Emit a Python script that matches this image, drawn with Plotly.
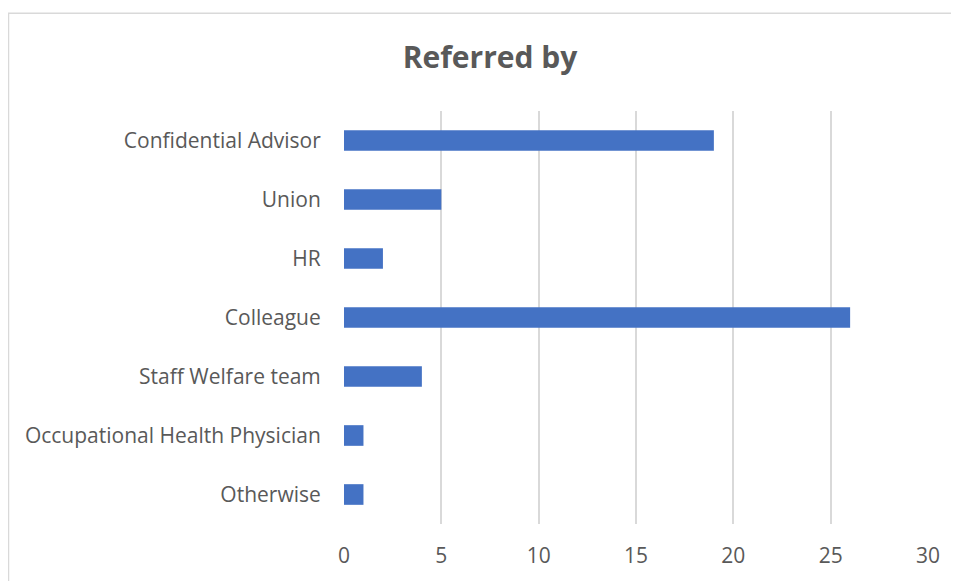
import plotly.graph_objects as go

# data (top to bottom)
categories = ["Confidential Advisor", "Union", "HR", "Colleague",
              "Staff Welfare team", "Occupational Health Physician", "Otherwise"]
counts = [19, 5, 2, 26, 4, 1, 1]
x_ticks = [0, 5, 10, 15, 20, 25, 30]

# the page body adds an 8px margin, so the figure starts at (8, 8)
OFF = 8
W, H = 959 - OFF, 581 - OFF
L, R, T, B = 344 - OFF, 31, 111 - OFF, 54
pw, ph = W - L - R, H - T - B

fig = go.Figure(go.Bar(
    y=categories,
    x=counts,
    orientation="h",
    marker=dict(color="#4472C4", line=dict(width=0)),
    showlegend=False,
))

# chart-area border (light gray, cropped at right/bottom like the original)
fig.add_shape(type="rect", xref="paper", yref="paper",
              x0=(8.5 - OFF - L) / pw, x1=(980 - L) / pw,
              y0=(H - B - 600) / ph, y1=(H - B - (12.5 - OFF)) / ph,
              line=dict(color="#D9D9D9", width=1.5), fillcolor="rgba(0,0,0,0)",
              layer="below")

fig.update_layout(
    width=W, height=H,
    margin=dict(l=L, r=R, t=T, b=B),
    paper_bgcolor="white", plot_bgcolor="white",
    bargap=0.65,
    font=dict(family="Open Sans, sans-serif", size=21, color="#595959"),
    title=dict(text="<b>Referred by</b>", x=(490 - OFF) / W, xanchor="center",
               y=1 - (57 - OFF) / H, yanchor="middle",
               font=dict(size=30, color="#595959")),
    xaxis=dict(range=[0, 30], tickvals=x_ticks, showgrid=True,
               gridcolor="#D9D9D9", gridwidth=1.5, zeroline=False,
               showline=False, ticks="outside", ticklen=13,
               tickcolor="rgba(0,0,0,0)"),
    yaxis=dict(categoryorder="array", categoryarray=categories[::-1],
               showgrid=False, zeroline=False, showline=False,
               ticks="outside", ticklen=18, tickcolor="rgba(0,0,0,0)"),
)

fig.write_html("out.html")
